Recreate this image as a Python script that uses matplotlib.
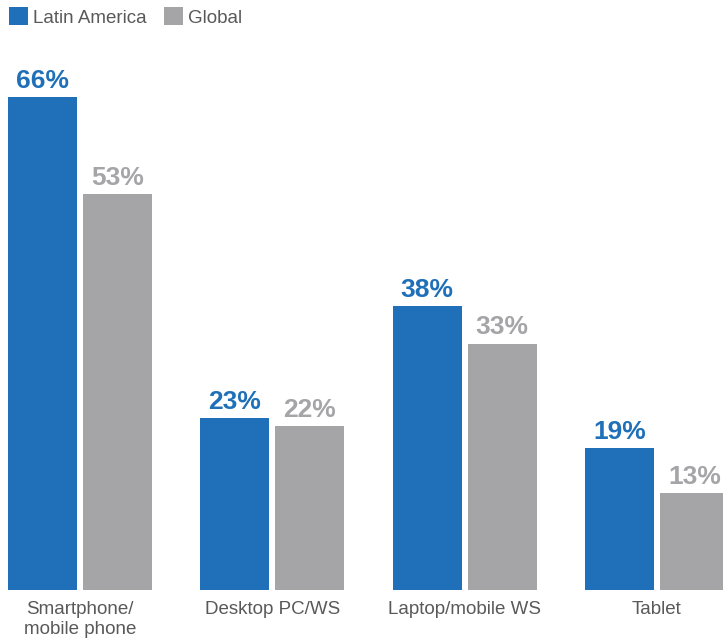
import matplotlib
matplotlib.use("Agg")
import matplotlib.pyplot as plt
import numpy as np

categories = ["Smartphone/\nmobile phone", "Desktop PC/WS", "Laptop/mobile WS", "Tablet"]
latam = [66, 23, 38, 19]
glob_ = [53, 22, 33, 13]
series_names = ["Latin America", "Global"]

BLUE = "#1f70b8"
GRAY = "#a5a5a8"
TXT = "#595959"

plt.rcParams["font.family"] = ["Liberation Sans", "DejaVu Sans"]

W, H = 723, 643
fig = plt.figure(figsize=(W / 100, H / 100), dpi=100)
ax = fig.add_axes([0, 53 / H, 1, 590 / H])

x = np.arange(len(categories))
bw = 0.359
off = 0.195
b1 = ax.bar(x - off, latam, bw, color=BLUE, label=series_names[0])
b2 = ax.bar(x + off, glob_, bw, color=GRAY, label=series_names[1])

for rects, vals, col in [(b1, latam, BLUE), (b2, glob_, GRAY)]:
    for r, v in zip(rects, vals):
        ax.annotate(f"{v}%", (r.get_x() + r.get_width() / 2, r.get_height()),
                    xytext=(0, 3), textcoords="offset points",
                    ha="center", va="bottom", fontsize=19, fontweight="bold",
                    color=col)

ax.set_xlim(-0.416, 3.344)
ax.set_ylim(0, 79)
ax.set_xticks(x)
ax.set_xticklabels(categories, fontsize=13.5, color=TXT, linespacing=1.25)
ax.tick_params(axis="x", length=0, pad=8)
ax.set_yticks([])
for s in ax.spines.values():
    s.set_visible(False)

fig.legend(handles=[b1, b2], loc="center left", bbox_to_anchor=(0.012, 1 - 17 / H),
           ncol=2, frameon=False, fontsize=13.5, handlelength=1.05, handleheight=1.05,
           handletextpad=0.25, columnspacing=0.9, borderaxespad=0, borderpad=0,
           labelcolor=TXT)

fig.savefig("out.png", dpi=100)
